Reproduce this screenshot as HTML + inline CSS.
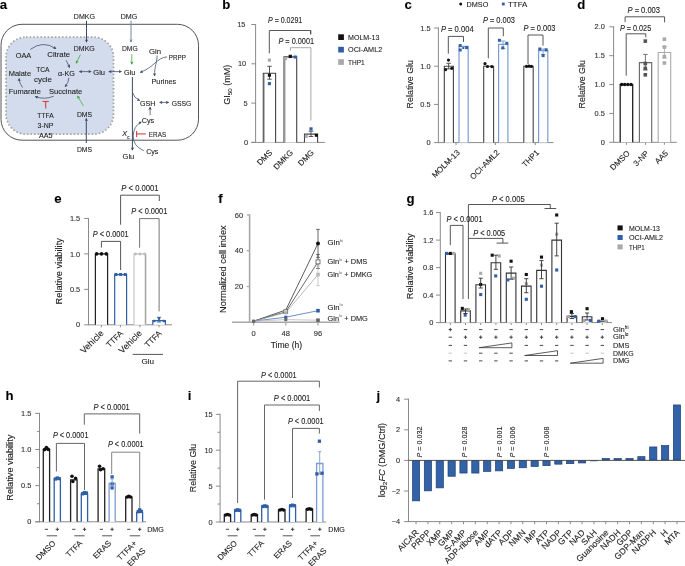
<!DOCTYPE html><html><head><meta charset="utf-8"><style>html,body{margin:0;padding:0;background:#fff;}svg{display:block;will-change:transform;font-family:"Liberation Sans",sans-serif;}text{stroke:#222;stroke-width:0.1px;}</style></head><body>
<svg width="685" height="566" viewBox="0 0 685 566" fill="#222">
<defs><marker id="ah" viewBox="0 0 10 10" refX="8" refY="5" markerWidth="3.4" markerHeight="3.4" orient="auto-start-reverse" markerUnits="userSpaceOnUse"><path d="M0 0 L10 5 L0 10 L2.5 5 z" fill="#3b4a68"/></marker><marker id="ahg" viewBox="0 0 10 10" refX="8" refY="5" markerWidth="3.4" markerHeight="3.4" orient="auto-start-reverse" markerUnits="userSpaceOnUse"><path d="M0 0 L10 5 L0 10 L2.5 5 z" fill="#3ca83a"/></marker><marker id="ahl" viewBox="0 0 10 10" refX="8" refY="5" markerWidth="3.4" markerHeight="3.4" orient="auto-start-reverse" markerUnits="userSpaceOnUse"><path d="M0 0 L10 5 L0 10 L2.5 5 z" fill="#7784a0"/></marker></defs>
<rect width="685" height="566" fill="#fff"/>
<text x="-0.3" y="9.3" font-size="13.2" font-weight="bold" fill="#000">a</text>
<rect x="1" y="24.3" width="197.5" height="115.9" rx="21" ry="21" fill="none" stroke="#555" stroke-width="1"/>
<rect x="6" y="37.2" width="107.5" height="97" rx="20" ry="20" fill="#d3dcec" stroke="#a5a5a5" stroke-width="1.8" stroke-dasharray="1.6 2.0"/>
<text x="84.4" y="19.21" font-size="7.8" text-anchor="middle" textLength="21.2" lengthAdjust="spacingAndGlyphs">DMKG</text>
<text x="129" y="19.21" font-size="7.8" text-anchor="middle" textLength="16.6" lengthAdjust="spacingAndGlyphs">DMG</text>
<text x="23.5" y="57.51" font-size="7.8" text-anchor="middle" textLength="15.5" lengthAdjust="spacingAndGlyphs">OAA</text>
<text x="58.7" y="57.11" font-size="7.8" text-anchor="middle" textLength="22.8" lengthAdjust="spacingAndGlyphs">Citrate</text>
<text x="84.3" y="50.71" font-size="7.8" text-anchor="middle" textLength="21" lengthAdjust="spacingAndGlyphs">DMKG</text>
<text x="129.8" y="51.31" font-size="7.8" text-anchor="middle" textLength="15.8" lengthAdjust="spacingAndGlyphs">DMG</text>
<text x="19.9" y="76.21" font-size="7.8" text-anchor="middle" textLength="22.2" lengthAdjust="spacingAndGlyphs">Malate</text>
<text x="42.9" y="72.41" font-size="7.8" text-anchor="middle" textLength="13.4" lengthAdjust="spacingAndGlyphs">TCA</text>
<text x="43" y="82.41" font-size="7.8" text-anchor="middle" textLength="18.1" lengthAdjust="spacingAndGlyphs">cycle</text>
<text x="66.4" y="76.21" font-size="7.8" text-anchor="middle" textLength="16.8" lengthAdjust="spacingAndGlyphs">α-KG</text>
<text x="99.2" y="75.21" font-size="7.8" text-anchor="middle" textLength="11.7" lengthAdjust="spacingAndGlyphs">Glu</text>
<text x="129.7" y="75.21" font-size="7.8" text-anchor="middle" textLength="11.3" lengthAdjust="spacingAndGlyphs">Glu</text>
<text x="155" y="54.11" font-size="7.8" text-anchor="middle" textLength="12.1" lengthAdjust="spacingAndGlyphs">Gln</text>
<text x="177.3" y="60.11" font-size="7.8" text-anchor="middle" textLength="17" lengthAdjust="spacingAndGlyphs">PRPP</text>
<text x="163.8" y="83.71" font-size="7.8" text-anchor="middle" textLength="24.5" lengthAdjust="spacingAndGlyphs">Purines</text>
<text x="24.8" y="94.41" font-size="7.8" text-anchor="middle" textLength="32.1" lengthAdjust="spacingAndGlyphs">Fumarate</text>
<text x="65.6" y="94.31" font-size="7.8" text-anchor="middle" textLength="33.2" lengthAdjust="spacingAndGlyphs">Succinate</text>
<text x="147.6" y="106.21" font-size="7.8" text-anchor="middle" textLength="15.4" lengthAdjust="spacingAndGlyphs">GSH</text>
<text x="181.6" y="106.21" font-size="7.8" text-anchor="middle" textLength="19.6" lengthAdjust="spacingAndGlyphs">GSSG</text>
<text x="147.9" y="123.11" font-size="7.8" text-anchor="middle" textLength="12.4" lengthAdjust="spacingAndGlyphs">Cys</text>
<text x="45.5" y="118.31" font-size="7.8" text-anchor="middle" textLength="16.3" lengthAdjust="spacingAndGlyphs">TTFA</text>
<text x="45.5" y="128.31" font-size="7.8" text-anchor="middle" textLength="15.9" lengthAdjust="spacingAndGlyphs">3-NP</text>
<text x="45.8" y="138.21" font-size="7.8" text-anchor="middle" textLength="13.5" lengthAdjust="spacingAndGlyphs">AA5</text>
<text x="84.5" y="117.01" font-size="7.8" text-anchor="middle" textLength="15.2" lengthAdjust="spacingAndGlyphs">DMS</text>
<text x="84.5" y="152.41" font-size="7.8" text-anchor="middle" textLength="15.2" lengthAdjust="spacingAndGlyphs">DMS</text>
<text x="157.5" y="137.31" font-size="7.8" text-anchor="middle" textLength="17.3" lengthAdjust="spacingAndGlyphs">ERAS</text>
<text x="152.3" y="154.01" font-size="7.8" text-anchor="middle" textLength="12.3" lengthAdjust="spacingAndGlyphs">Cys</text>
<text x="128.4" y="159.21" font-size="7.8" text-anchor="middle" textLength="11.7" lengthAdjust="spacingAndGlyphs">Glu</text>
<text x="122.3" y="136.4" font-size="7.3" font-style="italic">X</text>
<text x="127.2" y="139.2" font-size="4.6">c</text>
<path d="M86.5 20.8 V42" fill="none" stroke="#3b4a68" stroke-width="1" marker-end="url(#ah)"/>
<path d="M131 20.8 V42" fill="none" stroke="#7784a0" stroke-width="1" marker-end="url(#ahl)"/>
<path d="M86.3 143 V118.5" fill="none" stroke="#3b4a68" stroke-width="1" marker-end="url(#ah)"/>
<path d="M30.3 49.4 Q43 40 55.8 48.6" fill="none" stroke="#3b4a68" stroke-width="0.75" marker-end="url(#ah)"/>
<path d="M66.1 60.3 L69.6 67.3" fill="none" stroke="#3b4a68" stroke-width="0.75" marker-end="url(#ah)"/>
<path d="M68.9 77.8 Q68.5 83 65.2 86.6" fill="none" stroke="#3b4a68" stroke-width="0.75" marker-end="url(#ah)"/>
<path d="M53.7 96.2 Q44.5 100 35.4 96.6" fill="none" stroke="#3b4a68" stroke-width="0.75" marker-end="url(#ah)"/>
<path d="M22.6 87.5 Q19 83 19.2 78.6" fill="none" stroke="#3b4a68" stroke-width="0.75" marker-end="url(#ah)"/>
<path d="M80.4 54.6 L76.2 63.2" fill="none" stroke="#3ca83a" stroke-width="0.75" marker-end="url(#ahg)"/>
<path d="M131.8 54.1 V64" fill="none" stroke="#3ca83a" stroke-width="0.75" marker-end="url(#ahg)"/>
<path d="M83.4 105.8 L77.6 96.2" fill="none" stroke="#3ca83a" stroke-width="0.75" marker-end="url(#ahg)"/>
<path d="M79.5 71.6 H91" fill="none" stroke="#3b4a68" stroke-width="0.75" marker-end="url(#ah)" marker-start="url(#ah)"/>
<path d="M109 71.6 H121.3" fill="none" stroke="#3b4a68" stroke-width="0.75" marker-end="url(#ah)" marker-start="url(#ah)"/>
<path d="M159.8 102.4 H168.6" fill="none" stroke="#3b4a68" stroke-width="0.75" marker-end="url(#ah)" marker-start="url(#ah)"/>
<path d="M132.4 77 V150" fill="none" stroke="#3b4a68" stroke-width="1" marker-end="url(#ah)"/>
<path d="M132.4 92.5 Q134 98 139.6 100.4" fill="none" stroke="#3b4a68" stroke-width="0.75" marker-end="url(#ah)"/>
<path d="M167.1 56.9 C157 57.3 153.5 68 140.3 72.3" fill="none" stroke="#3b4a68" stroke-width="0.75" marker-end="url(#ah)"/>
<path d="M157.1 55.5 C157.2 62 154.4 66 154.6 75.8" fill="none" stroke="#3b4a68" stroke-width="0.75" marker-end="url(#ah)"/>
<path d="M150.1 115.3 V107.2" fill="none" stroke="#3b4a68" stroke-width="0.75" marker-end="url(#ah)"/>
<path d="M143.8 150.7 Q133 146 133.2 136 Q133.5 126 141.2 122.1" fill="none" stroke="#3b4a68" stroke-width="0.75" marker-end="url(#ah)"/>
<line x1="42.6" y1="101.5" x2="48.8" y2="101.5" stroke="#d8403a" stroke-width="1.1"/>
<line x1="45.7" y1="101.5" x2="45.7" y2="108.5" stroke="#d8403a" stroke-width="1.1"/>
<line x1="136.6" y1="133.9" x2="145.8" y2="133.9" stroke="#d8403a" stroke-width="1.1"/>
<line x1="136.6" y1="130.9" x2="136.6" y2="137" stroke="#d8403a" stroke-width="1.1"/>
<text x="222.3" y="9.2" font-size="13.2" font-weight="bold" fill="#000">b</text>
<line x1="255.6" y1="24" x2="255.6" y2="142.9" stroke="#8a8a8a" stroke-width="1"/>
<line x1="251.3" y1="24.5" x2="255.6" y2="24.5" stroke="#8a8a8a" stroke-width="1"/>
<text x="245.4" y="27.16" font-size="7.4" text-anchor="end" fill="#333">15</text>
<line x1="251.3" y1="63.8" x2="255.6" y2="63.8" stroke="#8a8a8a" stroke-width="1"/>
<text x="246.2" y="66.46" font-size="7.4" text-anchor="end" fill="#333">10</text>
<line x1="251.3" y1="103.1" x2="255.6" y2="103.1" stroke="#8a8a8a" stroke-width="1"/>
<text x="247.6" y="105.76" font-size="7.4" text-anchor="end" fill="#333">5</text>
<line x1="251.3" y1="142.4" x2="255.6" y2="142.4" stroke="#8a8a8a" stroke-width="1"/>
<text x="248.2" y="145.06" font-size="7.4" text-anchor="end" fill="#333">0</text>
<line x1="251.2" y1="142.4" x2="324.9" y2="142.4" stroke="#8a8a8a" stroke-width="1"/>
<text x="0" y="0" font-size="8.8" text-anchor="middle" transform="translate(230.4 84.7) rotate(-90)" textLength="40" lengthAdjust="spacingAndGlyphs">GI<tspan font-size="6" dy="2">50</tspan><tspan dy="-2"> (mM)</tspan></text>
<path d="M263.3 142.4 V73.23 H275.6 V142.4" fill="#fff" stroke="#444" stroke-width="1.1"/>
<path d="M284 142.4 V56.88 H296.7 V142.4" fill="#fff" stroke="#444" stroke-width="1.1"/>
<path d="M304.5 142.4 V134.15 H317.6 V142.4" fill="#fff" stroke="#444" stroke-width="1.1"/>
<line x1="264.4" y1="74.23" x2="264.4" y2="142.4" stroke="#9a9a9a" stroke-width="0.8"/>
<line x1="285.1" y1="57.88" x2="285.1" y2="142.4" stroke="#9a9a9a" stroke-width="0.8"/>
<line x1="269.5" y1="66.3" x2="269.5" y2="79.2" stroke="#444" stroke-width="0.9"/>
<line x1="267.25" y1="66.3" x2="271.75" y2="66.3" stroke="#444" stroke-width="0.9"/>
<line x1="267.25" y1="79.2" x2="271.75" y2="79.2" stroke="#444" stroke-width="0.9"/>
<rect x="267.85" y="58.55" width="3.1" height="3.1" fill="#aaa" stroke="none" stroke-width="1"/>
<rect x="267.85" y="73.65" width="3.1" height="3.1" fill="#111" stroke="none" stroke-width="1"/>
<rect x="267.85" y="82.05" width="3.1" height="3.1" fill="#2f5fa7" stroke="none" stroke-width="1"/>
<rect x="284.05" y="57.05" width="3.1" height="3.1" fill="#aaa" stroke="none" stroke-width="1"/>
<rect x="288.65" y="54.75" width="3.3" height="3.3" fill="#111" stroke="none" stroke-width="1"/>
<rect x="293.65" y="55.45" width="3.1" height="3.1" fill="#2f5fa7" stroke="none" stroke-width="1"/>
<line x1="311" y1="131.2" x2="311" y2="136.5" stroke="#444" stroke-width="0.9"/>
<line x1="308.75" y1="131.2" x2="313.25" y2="131.2" stroke="#444" stroke-width="0.9"/>
<line x1="308.75" y1="136.5" x2="313.25" y2="136.5" stroke="#444" stroke-width="0.9"/>
<rect x="309.4" y="127.3" width="3.2" height="3.2" fill="#2f5fa7" stroke="none" stroke-width="1"/>
<rect x="314.8" y="133.8" width="3" height="3" fill="#111" stroke="none" stroke-width="1"/>
<rect x="304.8" y="134.8" width="3" height="3" fill="#aaa" stroke="none" stroke-width="1"/>
<polyline points="269.3,53.4 269.3,30.5 310.7,30.5 310.7,34.3" fill="none" stroke="#444" stroke-width="0.9"/>
<polyline points="290.5,50.6 290.5,47.7 310.9,47.7 310.9,120.5" fill="none" stroke="#aaa" stroke-width="1"/>
<line x1="310.7" y1="34.3" x2="310.7" y2="30.5" stroke="#444" stroke-width="0.9"/>
<text x="268" y="22.6" font-size="8.3" textLength="34.3" lengthAdjust="spacingAndGlyphs"><tspan font-style="italic">P</tspan> = 0.0291</text>
<text x="278.4" y="43.9" font-size="8.3" textLength="35.7" lengthAdjust="spacingAndGlyphs"><tspan font-style="italic">P</tspan> = 0.0001</text>
<text x="0" y="0" transform="translate(272.8 153.2) rotate(-45)" font-size="8" text-anchor="end">DMS</text>
<text x="0" y="0" transform="translate(293.6 153.2) rotate(-45)" font-size="8" text-anchor="end">DMKG</text>
<text x="0" y="0" transform="translate(314.5 153.2) rotate(-45)" font-size="8" text-anchor="end">DMG</text>
<rect x="338.2" y="34.3" width="5.7" height="5.7" fill="#111" stroke="none" stroke-width="1"/>
<text x="348" y="39.9" font-size="7.6" textLength="31.5" lengthAdjust="spacingAndGlyphs">MOLM-13</text>
<rect x="338.2" y="46.8" width="5.7" height="5.7" fill="#2f5fa7" stroke="none" stroke-width="1"/>
<text x="348" y="52.4" font-size="7.6" textLength="34.2" lengthAdjust="spacingAndGlyphs">OCI-AML2</text>
<rect x="338.2" y="59.2" width="5.7" height="5.7" fill="#a9a9a9" stroke="none" stroke-width="1"/>
<text x="348" y="64.8" font-size="7.6" textLength="16.6" lengthAdjust="spacingAndGlyphs">THP1</text>
<text x="404.4" y="9.3" font-size="13.2" font-weight="bold" fill="#000">c</text>
<line x1="438.4" y1="27.5" x2="438.4" y2="143.1" stroke="#8a8a8a" stroke-width="1"/>
<line x1="434.1" y1="28" x2="438.4" y2="28" stroke="#8a8a8a" stroke-width="1"/>
<text x="430.5" y="30.66" font-size="7.4" text-anchor="end" fill="#333">1.5</text>
<line x1="434.1" y1="66.2" x2="438.4" y2="66.2" stroke="#8a8a8a" stroke-width="1"/>
<text x="430.5" y="68.86" font-size="7.4" text-anchor="end" fill="#333">1.0</text>
<line x1="434.1" y1="104.4" x2="438.4" y2="104.4" stroke="#8a8a8a" stroke-width="1"/>
<text x="430.5" y="107.06" font-size="7.4" text-anchor="end" fill="#333">0.5</text>
<line x1="434.1" y1="142.6" x2="438.4" y2="142.6" stroke="#8a8a8a" stroke-width="1"/>
<text x="430.5" y="145.26" font-size="7.4" text-anchor="end" fill="#333">0</text>
<line x1="438.4" y1="142.6" x2="553.5" y2="142.6" stroke="#8a8a8a" stroke-width="1"/>
<line x1="456" y1="142.6" x2="456" y2="145.1" stroke="#8a8a8a" stroke-width="1"/>
<line x1="495.3" y1="142.6" x2="495.3" y2="145.1" stroke="#8a8a8a" stroke-width="1"/>
<line x1="535.2" y1="142.6" x2="535.2" y2="145.1" stroke="#8a8a8a" stroke-width="1"/>
<text x="0" y="0" font-size="8.8" text-anchor="middle" transform="translate(412.6 84.2) rotate(-90)" textLength="48.4" lengthAdjust="spacingAndGlyphs">Relative Glu</text>
<circle cx="460.7" cy="4" r="1.5" fill="#111"/>
<text x="466.6" y="6.6" font-size="7.2" textLength="21.7" lengthAdjust="spacingAndGlyphs">DMSO</text>
<rect x="501.9" y="2.6" width="2.8" height="2.8" fill="#2f5fa7" stroke="none" stroke-width="1"/>
<text x="508" y="6.6" font-size="7.2" textLength="19.3" lengthAdjust="spacingAndGlyphs">TTFA</text>
<path d="M444.3 142.6 V66.2 H453.4 V142.6" fill="#fff" stroke="#444" stroke-width="1.1"/>
<path d="M459 142.6 V46.34 H468.2 V142.6" fill="#fff" stroke="#7d9dd2" stroke-width="1.2"/>
<path d="M483.7 142.6 V66.2 H493.6 V142.6" fill="#fff" stroke="#444" stroke-width="1.1"/>
<path d="M498.6 142.6 V44.43 H507.9 V142.6" fill="#fff" stroke="#7d9dd2" stroke-width="1.2"/>
<path d="M523.8 142.6 V66.2 H533.2 V142.6" fill="#fff" stroke="#444" stroke-width="1.1"/>
<path d="M538.6 142.6 V50.54 H547.8 V142.6" fill="#fff" stroke="#7d9dd2" stroke-width="1.2"/>
<line x1="448.6" y1="63.3" x2="448.6" y2="68.8" stroke="#444" stroke-width="0.9"/>
<line x1="446.35" y1="63.3" x2="450.85" y2="63.3" stroke="#444" stroke-width="0.9"/>
<line x1="446.35" y1="68.8" x2="450.85" y2="68.8" stroke="#444" stroke-width="0.9"/>
<circle cx="448.5" cy="60.1" r="1.6" fill="#111"/>
<circle cx="445.6" cy="69.6" r="1.6" fill="#111"/>
<circle cx="451.8" cy="68.3" r="1.6" fill="#111"/>
<rect x="458.7" y="44.1" width="3" height="3" fill="#2f5fa7" stroke="none" stroke-width="1"/>
<rect x="458.7" y="48.5" width="3" height="3" fill="#2f5fa7" stroke="none" stroke-width="1"/>
<rect x="465.1" y="46.1" width="3" height="3" fill="#2f5fa7" stroke="none" stroke-width="1"/>
<rect x="462.3" y="47" width="2" height="2" fill="#2f5fa7" stroke="none" stroke-width="1"/>
<circle cx="485" cy="63.7" r="1.6" fill="#111"/>
<circle cx="487.5" cy="66.5" r="1.6" fill="#111"/>
<circle cx="491.8" cy="66.6" r="1.6" fill="#111"/>
<line x1="503.1" y1="41" x2="503.1" y2="48.5" stroke="#7d9dd2" stroke-width="0.9"/>
<line x1="500.85" y1="41" x2="505.35" y2="41" stroke="#7d9dd2" stroke-width="0.9"/>
<line x1="500.85" y1="48.5" x2="505.35" y2="48.5" stroke="#7d9dd2" stroke-width="0.9"/>
<rect x="497.9" y="38.8" width="3" height="3" fill="#2f5fa7" stroke="none" stroke-width="1"/>
<rect x="505.3" y="41.8" width="3" height="3" fill="#2f5fa7" stroke="none" stroke-width="1"/>
<rect x="501.3" y="46.4" width="3" height="3" fill="#2f5fa7" stroke="none" stroke-width="1"/>
<circle cx="526.5" cy="66.4" r="1.6" fill="#111"/>
<circle cx="529" cy="66.2" r="1.6" fill="#111"/>
<circle cx="531.4" cy="66.4" r="1.6" fill="#111"/>
<line x1="543.1" y1="49" x2="543.1" y2="54.5" stroke="#7d9dd2" stroke-width="0.9"/>
<line x1="540.85" y1="49" x2="545.35" y2="49" stroke="#7d9dd2" stroke-width="0.9"/>
<line x1="540.85" y1="54.5" x2="545.35" y2="54.5" stroke="#7d9dd2" stroke-width="0.9"/>
<rect x="538.3" y="47.5" width="3" height="3" fill="#2f5fa7" stroke="none" stroke-width="1"/>
<rect x="544.7" y="48.3" width="3" height="3" fill="#2f5fa7" stroke="none" stroke-width="1"/>
<rect x="541.6" y="54.1" width="3" height="3" fill="#2f5fa7" stroke="none" stroke-width="1"/>
<polyline points="448.3,53.7 448.3,36.4 463.5,36.4 463.5,42" fill="none" stroke="#444" stroke-width="0.9"/>
<polyline points="488.3,58.4 488.3,28 503.3,28 503.3,36.2" fill="none" stroke="#444" stroke-width="0.9"/>
<polyline points="528,64.3 528,35 543,35 543,45.6" fill="none" stroke="#444" stroke-width="0.9"/>
<text x="440.9" y="32.3" font-size="8.3" textLength="32.7" lengthAdjust="spacingAndGlyphs"><tspan font-style="italic">P</tspan> = 0.004</text>
<text x="482.9" y="23" font-size="8.3" textLength="32.1" lengthAdjust="spacingAndGlyphs"><tspan font-style="italic">P</tspan> = 0.003</text>
<text x="523.4" y="30.9" font-size="8.3" textLength="32" lengthAdjust="spacingAndGlyphs"><tspan font-style="italic">P</tspan> = 0.003</text>
<text x="0" y="0" transform="translate(460.3 153.2) rotate(-45)" font-size="8" text-anchor="end">MOLM-13</text>
<text x="0" y="0" transform="translate(500 153.2) rotate(-45)" font-size="8" text-anchor="end">OCI-AML2</text>
<text x="0" y="0" transform="translate(539.7 153.2) rotate(-45)" font-size="8" text-anchor="end">THP1</text>
<text x="577.2" y="9.3" font-size="13.2" font-weight="bold" fill="#000">d</text>
<line x1="613.6" y1="26.3" x2="613.6" y2="142.8" stroke="#8a8a8a" stroke-width="1"/>
<line x1="609.3" y1="26.8" x2="613.6" y2="26.8" stroke="#8a8a8a" stroke-width="1"/>
<text x="604.8" y="29.46" font-size="7.4" text-anchor="end" fill="#333">2.0</text>
<line x1="609.3" y1="55.68" x2="613.6" y2="55.68" stroke="#8a8a8a" stroke-width="1"/>
<text x="604.8" y="58.34" font-size="7.4" text-anchor="end" fill="#333">1.5</text>
<line x1="609.3" y1="84.55" x2="613.6" y2="84.55" stroke="#8a8a8a" stroke-width="1"/>
<text x="604.8" y="87.21" font-size="7.4" text-anchor="end" fill="#333">1.0</text>
<line x1="609.3" y1="113.43" x2="613.6" y2="113.43" stroke="#8a8a8a" stroke-width="1"/>
<text x="604.8" y="116.09" font-size="7.4" text-anchor="end" fill="#333">0.5</text>
<line x1="609.3" y1="142.3" x2="613.6" y2="142.3" stroke="#8a8a8a" stroke-width="1"/>
<text x="604.8" y="144.96" font-size="7.4" text-anchor="end" fill="#333">0</text>
<line x1="613.6" y1="142.3" x2="676.8" y2="142.3" stroke="#8a8a8a" stroke-width="1"/>
<line x1="626.5" y1="142.3" x2="626.5" y2="144.8" stroke="#8a8a8a" stroke-width="1"/>
<line x1="645.5" y1="142.3" x2="645.5" y2="144.8" stroke="#8a8a8a" stroke-width="1"/>
<line x1="664.4" y1="142.3" x2="664.4" y2="144.8" stroke="#8a8a8a" stroke-width="1"/>
<text x="0" y="0" font-size="8.8" text-anchor="middle" transform="translate(584.7 84.3) rotate(-90)" textLength="48.2" lengthAdjust="spacingAndGlyphs">Relative Glu</text>
<path d="M620.2 142.3 V84.55 H632.7 V142.3" fill="#fff" stroke="#222" stroke-width="1.3"/>
<path d="M639.4 142.3 V62.61 H651.7 V142.3" fill="#fff" stroke="#666" stroke-width="1.1"/>
<path d="M658.2 142.3 V52.5 H670.7 V142.3" fill="#fff" stroke="#aaa" stroke-width="1.1"/>
<circle cx="621.6" cy="84.55" r="1.75" fill="#111"/>
<circle cx="624.6" cy="84.55" r="1.75" fill="#111"/>
<circle cx="627.8" cy="84.55" r="1.75" fill="#111"/>
<circle cx="631" cy="84.55" r="1.75" fill="#111"/>
<line x1="645.4" y1="54.4" x2="645.4" y2="69.9" stroke="#666" stroke-width="0.9"/>
<line x1="643.1" y1="54.4" x2="647.7" y2="54.4" stroke="#666" stroke-width="0.9"/>
<line x1="643.1" y1="69.9" x2="647.7" y2="69.9" stroke="#666" stroke-width="0.9"/>
<rect x="643.5" y="39.3" width="3.6" height="3.6" fill="#555" stroke="none" stroke-width="1"/>
<rect x="643.5" y="61.7" width="3.6" height="3.6" fill="#555" stroke="none" stroke-width="1"/>
<rect x="643.5" y="66.6" width="3.6" height="3.6" fill="#555" stroke="none" stroke-width="1"/>
<rect x="643.5" y="73" width="3.6" height="3.6" fill="#555" stroke="none" stroke-width="1"/>
<line x1="664.4" y1="46.5" x2="664.4" y2="58" stroke="#aaa" stroke-width="0.9"/>
<line x1="662.1" y1="46.5" x2="666.7" y2="46.5" stroke="#aaa" stroke-width="0.9"/>
<line x1="662.1" y1="58" x2="666.7" y2="58" stroke="#aaa" stroke-width="0.9"/>
<rect x="662.6" y="37.4" width="3.6" height="3.6" fill="#aaa" stroke="none" stroke-width="1"/>
<rect x="662.6" y="45.3" width="3.6" height="3.6" fill="#aaa" stroke="none" stroke-width="1"/>
<rect x="662.6" y="54.8" width="3.6" height="3.6" fill="#aaa" stroke="none" stroke-width="1"/>
<rect x="662.6" y="61.2" width="3.6" height="3.6" fill="#aaa" stroke="none" stroke-width="1"/>
<polyline points="625.1,22 625.1,16.8 664.6,16.8 664.6,22.4" fill="none" stroke="#444" stroke-width="0.9"/>
<polyline points="626.2,75.7 626.2,33.8 645.8,33.8 645.8,37.4" fill="none" stroke="#444" stroke-width="0.9"/>
<text x="627.5" y="12.9" font-size="8.3" textLength="32.5" lengthAdjust="spacingAndGlyphs"><tspan font-style="italic">P</tspan> = 0.003</text>
<text x="619.9" y="31.1" font-size="8.3" textLength="31.3" lengthAdjust="spacingAndGlyphs"><tspan font-style="italic">P</tspan> = 0.025</text>
<text x="0" y="0" transform="translate(630.3 153.9) rotate(-45)" font-size="8" text-anchor="end">DMSO</text>
<text x="0" y="0" transform="translate(649.4 153.9) rotate(-45)" font-size="8" text-anchor="end">3-NP</text>
<text x="0" y="0" transform="translate(668.6 153.9) rotate(-45)" font-size="8" text-anchor="end">AA5</text>
<text x="54.3" y="203" font-size="13.2" font-weight="bold" fill="#000">e</text>
<line x1="88.5" y1="217.95" x2="88.5" y2="325.3" stroke="#8a8a8a" stroke-width="1"/>
<line x1="84.2" y1="218.45" x2="88.5" y2="218.45" stroke="#8a8a8a" stroke-width="1"/>
<text x="80.2" y="221.11" font-size="7.4" text-anchor="end" fill="#333">1.5</text>
<line x1="84.2" y1="253.9" x2="88.5" y2="253.9" stroke="#8a8a8a" stroke-width="1"/>
<text x="80.2" y="256.56" font-size="7.4" text-anchor="end" fill="#333">1.0</text>
<line x1="84.2" y1="289.35" x2="88.5" y2="289.35" stroke="#8a8a8a" stroke-width="1"/>
<text x="80.2" y="292.01" font-size="7.4" text-anchor="end" fill="#333">0.5</text>
<line x1="84.2" y1="324.8" x2="88.5" y2="324.8" stroke="#8a8a8a" stroke-width="1"/>
<text x="80.2" y="327.46" font-size="7.4" text-anchor="end" fill="#333">0</text>
<line x1="88.5" y1="324.8" x2="172" y2="324.8" stroke="#8a8a8a" stroke-width="1"/>
<line x1="101.4" y1="324.8" x2="101.4" y2="327.3" stroke="#8a8a8a" stroke-width="1"/>
<line x1="120.4" y1="324.8" x2="120.4" y2="327.3" stroke="#8a8a8a" stroke-width="1"/>
<line x1="139.9" y1="324.8" x2="139.9" y2="327.3" stroke="#8a8a8a" stroke-width="1"/>
<line x1="159" y1="324.8" x2="159" y2="327.3" stroke="#8a8a8a" stroke-width="1"/>
<text x="0" y="0" font-size="8.8" text-anchor="middle" transform="translate(62.2 271.3) rotate(-90)" textLength="66.3" lengthAdjust="spacingAndGlyphs">Relative viability</text>
<path d="M95.4 324.8 V253.9 H107.6 V324.8" fill="#fff" stroke="#222" stroke-width="1.2"/>
<path d="M114.7 324.8 V274.67 H126.6 V324.8" fill="#fff" stroke="#2f5fa7" stroke-width="1.2"/>
<path d="M134 324.8 V253.9 H145.9 V324.8" fill="#fff" stroke="#c8c8c8" stroke-width="1.2"/>
<line x1="145.3" y1="253.9" x2="145.3" y2="324.8" stroke="#999" stroke-width="1"/>
<path d="M152.8 324.8 V320.55 H165.4 V324.8" fill="#fff" stroke="#2f5fa7" stroke-width="1.2"/>
<circle cx="96.7" cy="253.9" r="1.8" fill="#111"/>
<circle cx="101.5" cy="253.9" r="1.8" fill="#111"/>
<circle cx="106.3" cy="253.9" r="1.8" fill="#111"/>
<rect x="114.5" y="272.96" width="3" height="3" fill="#2f5fa7" stroke="none" stroke-width="1"/>
<rect x="119.1" y="272.96" width="3" height="3" fill="#2f5fa7" stroke="none" stroke-width="1"/>
<rect x="123.7" y="272.96" width="3" height="3" fill="#2f5fa7" stroke="none" stroke-width="1"/>
<circle cx="135.4" cy="253.9" r="1.5" fill="#bdbdbd"/>
<circle cx="140" cy="253.9" r="1.5" fill="#bdbdbd"/>
<circle cx="144.6" cy="253.9" r="1.5" fill="#bdbdbd"/>
<line x1="159" y1="317.3" x2="159" y2="322" stroke="#2f5fa7" stroke-width="0.9"/>
<line x1="157" y1="317.3" x2="161" y2="317.3" stroke="#2f5fa7" stroke-width="0.9"/>
<line x1="157" y1="322" x2="161" y2="322" stroke="#2f5fa7" stroke-width="0.9"/>
<rect x="153" y="319.8" width="2.4" height="2.4" fill="#2f5fa7" stroke="none" stroke-width="1"/>
<rect x="157.8" y="317.3" width="2.4" height="2.4" fill="#2f5fa7" stroke="none" stroke-width="1"/>
<rect x="162.6" y="319.8" width="2.4" height="2.4" fill="#2f5fa7" stroke="none" stroke-width="1"/>
<polyline points="120.6,224.7 120.6,195.2 159.3,195.2 159.3,201" fill="none" stroke="#444" stroke-width="0.9"/>
<polyline points="101.4,247.6 101.4,241.4 120.6,241.4 120.6,270" fill="none" stroke="#444" stroke-width="0.9"/>
<polyline points="139.6,247.8 139.6,218.6 159.1,218.6 159.1,311.4" fill="none" stroke="#666" stroke-width="0.9"/>
<text x="121.3" y="191.1" font-size="8.3" textLength="37.3" lengthAdjust="spacingAndGlyphs"><tspan font-style="italic">P</tspan> &lt; 0.0001</text>
<text x="131.3" y="214" font-size="8.3" textLength="36" lengthAdjust="spacingAndGlyphs"><tspan font-style="italic">P</tspan> &lt; 0.0001</text>
<text x="92.8" y="237.4" font-size="8.3" textLength="35.8" lengthAdjust="spacingAndGlyphs"><tspan font-style="italic">P</tspan> &lt; 0.0001</text>
<text x="0" y="0" transform="translate(104.2 333.8) rotate(-45)" font-size="8.9" text-anchor="end">Vehicle</text>
<text x="0" y="0" transform="translate(123.6 333.8) rotate(-45)" font-size="8.2" text-anchor="end">TTFA</text>
<text x="0" y="0" transform="translate(142.6 333.8) rotate(-45)" font-size="8.9" text-anchor="end">Vehicle</text>
<text x="0" y="0" transform="translate(162.2 333.8) rotate(-45)" font-size="8.2" text-anchor="end">TTFA</text>
<line x1="132.7" y1="354.4" x2="163" y2="354.4" stroke="#444" stroke-width="0.9"/>
<text x="147.7" y="363.6" font-size="7.6" text-anchor="middle" textLength="12.6" lengthAdjust="spacingAndGlyphs">Glu</text>
<text x="218.2" y="202.8" font-size="13.2" font-weight="bold" fill="#000">f</text>
<line x1="249.6" y1="214.4" x2="249.6" y2="322.3" stroke="#a8a8a8" stroke-width="1.6"/>
<line x1="246.8" y1="214.9" x2="249.6" y2="214.9" stroke="#a8a8a8" stroke-width="1.3"/>
<text x="243.2" y="217.6" font-size="7.6" text-anchor="end" fill="#333">60</text>
<line x1="246.8" y1="250.7" x2="249.6" y2="250.7" stroke="#a8a8a8" stroke-width="1.3"/>
<text x="243.2" y="253.4" font-size="7.6" text-anchor="end" fill="#333">40</text>
<line x1="246.8" y1="286.5" x2="249.6" y2="286.5" stroke="#a8a8a8" stroke-width="1.3"/>
<text x="243.2" y="289.2" font-size="7.6" text-anchor="end" fill="#333">20</text>
<line x1="232" y1="322.3" x2="339.6" y2="322.3" stroke="#a8a8a8" stroke-width="1.6"/>
<line x1="253.6" y1="322.3" x2="253.6" y2="325.5" stroke="#a8a8a8" stroke-width="1.3"/>
<line x1="285.8" y1="322.3" x2="285.8" y2="325.5" stroke="#a8a8a8" stroke-width="1.3"/>
<line x1="318" y1="322.3" x2="318" y2="325.5" stroke="#a8a8a8" stroke-width="1.3"/>
<text x="253.6" y="336" font-size="7.6" text-anchor="middle" fill="#333">0</text>
<text x="285.8" y="336" font-size="7.6" text-anchor="middle" fill="#333">48</text>
<text x="318" y="336" font-size="7.6" text-anchor="middle" fill="#333">96</text>
<text x="286.4" y="347.6" font-size="8.6" text-anchor="middle" textLength="31.5" lengthAdjust="spacingAndGlyphs">Time (h)</text>
<text x="0" y="0" font-size="8.8" text-anchor="middle" transform="translate(226.2 269.1) rotate(-90)" textLength="87.6" lengthAdjust="spacingAndGlyphs">Normalized cell index</text>
<polyline points="253.6,321.2 285.8,310 318,243.4" fill="none" stroke="#333" stroke-width="0.8"/>
<polyline points="253.6,321.2 285.8,311.8 318,261.8" fill="none" stroke="#444" stroke-width="0.8"/>
<polyline points="253.6,321.2 285.8,312.6 318,274.6" fill="none" stroke="#aaa" stroke-width="0.8"/>
<polyline points="253.6,321.2 285.8,317.2 318,310.7" fill="none" stroke="#4a72b8" stroke-width="0.8"/>
<polyline points="253.6,321.2 285.8,319.6 318,320.2" fill="none" stroke="#bbb" stroke-width="0.8"/>
<line x1="318" y1="229.4" x2="318" y2="257.4" stroke="#444" stroke-width="0.8"/>
<line x1="316.2" y1="229.4" x2="319.8" y2="229.4" stroke="#444" stroke-width="0.8"/>
<line x1="316.2" y1="257.4" x2="319.8" y2="257.4" stroke="#444" stroke-width="0.8"/>
<line x1="318" y1="254.5" x2="318" y2="268.5" stroke="#444" stroke-width="0.8"/>
<line x1="316.2" y1="254.5" x2="319.8" y2="254.5" stroke="#444" stroke-width="0.8"/>
<line x1="316.2" y1="268.5" x2="319.8" y2="268.5" stroke="#444" stroke-width="0.8"/>
<line x1="318" y1="266" x2="318" y2="285.7" stroke="#bbb" stroke-width="0.8"/>
<line x1="316.2" y1="266" x2="319.8" y2="266" stroke="#bbb" stroke-width="0.8"/>
<line x1="316.2" y1="285.7" x2="319.8" y2="285.7" stroke="#bbb" stroke-width="0.8"/>
<circle cx="318" cy="243.6" r="2" fill="#111"/>
<rect x="316" y="259.9" width="4" height="4" fill="#fff" stroke="#555" stroke-width="0.8"/>
<rect x="316.2" y="272.8" width="3.6" height="3.6" fill="#b8b8b8" stroke="none" stroke-width="1"/>
<rect x="316.2" y="308.9" width="3.6" height="3.6" fill="#2f5fa7" stroke="none" stroke-width="1"/>
<rect x="316.2" y="318.4" width="3.6" height="3.6" fill="#666" stroke="none" stroke-width="1"/>
<rect x="283.9" y="309.8" width="3.8" height="3.8" fill="#fff" stroke="#555" stroke-width="0.8"/>
<rect x="284.3" y="311.3" width="3" height="3" fill="#aaa" stroke="none" stroke-width="1"/>
<rect x="284.3" y="315.7" width="3" height="3" fill="#2f5fa7" stroke="none" stroke-width="1"/>
<rect x="284.3" y="318.1" width="3" height="3" fill="#666" stroke="none" stroke-width="1"/>
<rect x="252" y="319.6" width="3.2" height="3.2" fill="#666" stroke="none" stroke-width="1"/>
<text x="327.6" y="245.4" font-size="7.6" textLength="15.6" lengthAdjust="spacingAndGlyphs">Gln<tspan font-size="4.3" dy="-3.6" fill="#666" style="stroke:none">hi</tspan><tspan dy="3.6"></tspan></text>
<text x="327.6" y="264.1" font-size="7.6" textLength="39.7" lengthAdjust="spacingAndGlyphs">Gln<tspan font-size="4.3" dy="-3.6" fill="#666" style="stroke:none">lo</tspan><tspan dy="3.6"> + DMS</tspan></text>
<text x="327.6" y="277.4" font-size="7.6" textLength="44.6" lengthAdjust="spacingAndGlyphs">Gln<tspan font-size="4.3" dy="-3.6" fill="#666" style="stroke:none">lo</tspan><tspan dy="3.6"> + DMKG</tspan></text>
<text x="327.6" y="309.5" font-size="7.6" textLength="15.4" lengthAdjust="spacingAndGlyphs">Gln<tspan font-size="4.3" dy="-3.6" fill="#666" style="stroke:none">lo</tspan><tspan dy="3.6"></tspan></text>
<text x="327.6" y="320.8" font-size="7.6" textLength="40.2" lengthAdjust="spacingAndGlyphs">Gln<tspan font-size="4.3" dy="-3.6" fill="#666" style="stroke:none">lo</tspan><tspan dy="3.6"> + DMG</tspan></text>
<text x="406.6" y="202.8" font-size="13.2" font-weight="bold" fill="#000">g</text>
<line x1="440.3" y1="212.1" x2="440.3" y2="323.1" stroke="#8a8a8a" stroke-width="1"/>
<line x1="436" y1="212.6" x2="440.3" y2="212.6" stroke="#8a8a8a" stroke-width="1"/>
<text x="433.4" y="215.26" font-size="7.4" text-anchor="end" fill="#333">1.6</text>
<line x1="436" y1="240.1" x2="440.3" y2="240.1" stroke="#8a8a8a" stroke-width="1"/>
<text x="433.4" y="242.76" font-size="7.4" text-anchor="end" fill="#333">1.2</text>
<line x1="436" y1="267.6" x2="440.3" y2="267.6" stroke="#8a8a8a" stroke-width="1"/>
<text x="433.4" y="270.26" font-size="7.4" text-anchor="end" fill="#333">0.8</text>
<line x1="436" y1="295.1" x2="440.3" y2="295.1" stroke="#8a8a8a" stroke-width="1"/>
<text x="433.4" y="297.76" font-size="7.4" text-anchor="end" fill="#333">0.4</text>
<line x1="436" y1="322.6" x2="440.3" y2="322.6" stroke="#8a8a8a" stroke-width="1"/>
<text x="433.4" y="325.26" font-size="7.4" text-anchor="end" fill="#333">0</text>
<line x1="440.3" y1="322.6" x2="612" y2="322.6" stroke="#8a8a8a" stroke-width="1"/>
<text x="0" y="0" font-size="8.8" text-anchor="middle" transform="translate(413.3 266.3) rotate(-90)" textLength="65.8" lengthAdjust="spacingAndGlyphs">Relative viability</text>
<line x1="450.3" y1="322.6" x2="450.3" y2="325" stroke="#8a8a8a" stroke-width="1"/>
<line x1="465.5" y1="322.6" x2="465.5" y2="325" stroke="#8a8a8a" stroke-width="1"/>
<line x1="480.7" y1="322.6" x2="480.7" y2="325" stroke="#8a8a8a" stroke-width="1"/>
<line x1="495.9" y1="322.6" x2="495.9" y2="325" stroke="#8a8a8a" stroke-width="1"/>
<line x1="511.1" y1="322.6" x2="511.1" y2="325" stroke="#8a8a8a" stroke-width="1"/>
<line x1="526.3" y1="322.6" x2="526.3" y2="325" stroke="#8a8a8a" stroke-width="1"/>
<line x1="541.5" y1="322.6" x2="541.5" y2="325" stroke="#8a8a8a" stroke-width="1"/>
<line x1="556.7" y1="322.6" x2="556.7" y2="325" stroke="#8a8a8a" stroke-width="1"/>
<line x1="571.9" y1="322.6" x2="571.9" y2="325" stroke="#8a8a8a" stroke-width="1"/>
<line x1="587.1" y1="322.6" x2="587.1" y2="325" stroke="#8a8a8a" stroke-width="1"/>
<line x1="602.3" y1="322.6" x2="602.3" y2="325" stroke="#8a8a8a" stroke-width="1"/>
<path d="M445.5 322.6 V253.85 H455.1 V322.6" fill="#fff" stroke="#333" stroke-width="1.1"/>
<path d="M460.7 322.6 V310.91 H470.3 V322.6" fill="#fff" stroke="#333" stroke-width="1.1"/>
<path d="M475.9 322.6 V284.79 H485.5 V322.6" fill="#fff" stroke="#333" stroke-width="1.1"/>
<path d="M491.1 322.6 V262.79 H500.7 V322.6" fill="#fff" stroke="#333" stroke-width="1.1"/>
<path d="M506.3 322.6 V273.1 H515.9 V322.6" fill="#fff" stroke="#333" stroke-width="1.1"/>
<path d="M521.5 322.6 V286.16 H531.1 V322.6" fill="#fff" stroke="#333" stroke-width="1.1"/>
<path d="M536.7 322.6 V270.35 H546.3 V322.6" fill="#fff" stroke="#333" stroke-width="1.1"/>
<path d="M551.9 322.6 V240.1 H561.5 V322.6" fill="#fff" stroke="#333" stroke-width="1.1"/>
<path d="M567.1 322.6 V316.41 H576.7 V322.6" fill="#fff" stroke="#333" stroke-width="1.1"/>
<path d="M582.3 322.6 V316.76 H591.9 V322.6" fill="#fff" stroke="#333" stroke-width="1.1"/>
<path d="M597.5 322.6 V321.23 H607.1 V322.6" fill="#fff" stroke="#333" stroke-width="1.1"/>
<rect x="444.95" y="251.85" width="3.1" height="3.1" fill="#2f5fa7" stroke="none" stroke-width="1"/>
<rect x="448.75" y="251.85" width="3.1" height="3.1" fill="#111" stroke="none" stroke-width="1"/>
<rect x="452.15" y="251.85" width="3.1" height="3.1" fill="#a9a9a9" stroke="none" stroke-width="1"/>
<rect x="460.75" y="306.85" width="3.1" height="3.1" fill="#111" stroke="none" stroke-width="1"/>
<rect x="466.75" y="307.95" width="3.1" height="3.1" fill="#a9a9a9" stroke="none" stroke-width="1"/>
<rect x="463.65" y="313.55" width="3.1" height="3.1" fill="#2f5fa7" stroke="none" stroke-width="1"/>
<rect x="479.15" y="271.75" width="3.1" height="3.1" fill="#a9a9a9" stroke="none" stroke-width="1"/>
<rect x="479.15" y="282.95" width="3.1" height="3.1" fill="#111" stroke="none" stroke-width="1"/>
<rect x="479.15" y="293.05" width="3.1" height="3.1" fill="#2f5fa7" stroke="none" stroke-width="1"/>
<rect x="490.65" y="253.65" width="3.1" height="3.1" fill="#111" stroke="none" stroke-width="1"/>
<rect x="497.65" y="254.35" width="3.1" height="3.1" fill="#a9a9a9" stroke="none" stroke-width="1"/>
<rect x="494.15" y="274.35" width="3.1" height="3.1" fill="#2f5fa7" stroke="none" stroke-width="1"/>
<rect x="509.55" y="259.65" width="3.1" height="3.1" fill="#111" stroke="none" stroke-width="1"/>
<rect x="506.25" y="278.35" width="3.1" height="3.1" fill="#2f5fa7" stroke="none" stroke-width="1"/>
<rect x="512.05" y="276.65" width="3.1" height="3.1" fill="#a9a9a9" stroke="none" stroke-width="1"/>
<rect x="524.75" y="272.95" width="3.1" height="3.1" fill="#111" stroke="none" stroke-width="1"/>
<rect x="524.75" y="282.25" width="3.1" height="3.1" fill="#a9a9a9" stroke="none" stroke-width="1"/>
<rect x="524.75" y="297.75" width="3.1" height="3.1" fill="#2f5fa7" stroke="none" stroke-width="1"/>
<rect x="539.95" y="255.55" width="3.1" height="3.1" fill="#111" stroke="none" stroke-width="1"/>
<rect x="539.95" y="263.55" width="3.1" height="3.1" fill="#a9a9a9" stroke="none" stroke-width="1"/>
<rect x="539.95" y="284.65" width="3.1" height="3.1" fill="#2f5fa7" stroke="none" stroke-width="1"/>
<rect x="555.15" y="213.45" width="3.1" height="3.1" fill="#111" stroke="none" stroke-width="1"/>
<rect x="555.15" y="232.65" width="3.1" height="3.1" fill="#a9a9a9" stroke="none" stroke-width="1"/>
<rect x="555.15" y="268.45" width="3.1" height="3.1" fill="#2f5fa7" stroke="none" stroke-width="1"/>
<rect x="569.85" y="310.15" width="3.1" height="3.1" fill="#111" stroke="none" stroke-width="1"/>
<rect x="573.55" y="315.05" width="3.1" height="3.1" fill="#2f5fa7" stroke="none" stroke-width="1"/>
<rect x="566.85" y="315.05" width="3.1" height="3.1" fill="#a9a9a9" stroke="none" stroke-width="1"/>
<rect x="585.55" y="307.15" width="3.1" height="3.1" fill="#111" stroke="none" stroke-width="1"/>
<rect x="588.95" y="318.85" width="3.1" height="3.1" fill="#2f5fa7" stroke="none" stroke-width="1"/>
<rect x="582.55" y="318.85" width="3.1" height="3.1" fill="#a9a9a9" stroke="none" stroke-width="1"/>
<rect x="597.35" y="319.65" width="3.1" height="3.1" fill="#2f5fa7" stroke="none" stroke-width="1"/>
<rect x="600.95" y="317.15" width="3.1" height="3.1" fill="#111" stroke="none" stroke-width="1"/>
<rect x="604.55" y="319.45" width="3.1" height="3.1" fill="#a9a9a9" stroke="none" stroke-width="1"/>
<line x1="465.5" y1="309" x2="465.5" y2="313.5" stroke="#333" stroke-width="0.9"/>
<line x1="463.4" y1="309" x2="467.6" y2="309" stroke="#333" stroke-width="0.9"/>
<line x1="463.4" y1="313.5" x2="467.6" y2="313.5" stroke="#333" stroke-width="0.9"/>
<line x1="480.7" y1="278.2" x2="480.7" y2="288" stroke="#333" stroke-width="0.9"/>
<line x1="478.6" y1="278.2" x2="482.8" y2="278.2" stroke="#333" stroke-width="0.9"/>
<line x1="478.6" y1="288" x2="482.8" y2="288" stroke="#333" stroke-width="0.9"/>
<line x1="495.9" y1="255.2" x2="495.9" y2="269.3" stroke="#333" stroke-width="0.9"/>
<line x1="493.8" y1="255.2" x2="498" y2="255.2" stroke="#333" stroke-width="0.9"/>
<line x1="493.8" y1="269.3" x2="498" y2="269.3" stroke="#333" stroke-width="0.9"/>
<line x1="511.1" y1="267" x2="511.1" y2="279.2" stroke="#333" stroke-width="0.9"/>
<line x1="509" y1="267" x2="513.2" y2="267" stroke="#333" stroke-width="0.9"/>
<line x1="509" y1="279.2" x2="513.2" y2="279.2" stroke="#333" stroke-width="0.9"/>
<line x1="526.3" y1="278.7" x2="526.3" y2="292.7" stroke="#333" stroke-width="0.9"/>
<line x1="524.2" y1="278.7" x2="528.4" y2="278.7" stroke="#333" stroke-width="0.9"/>
<line x1="524.2" y1="292.7" x2="528.4" y2="292.7" stroke="#333" stroke-width="0.9"/>
<line x1="541.5" y1="260.6" x2="541.5" y2="278.7" stroke="#333" stroke-width="0.9"/>
<line x1="539.4" y1="260.6" x2="543.6" y2="260.6" stroke="#333" stroke-width="0.9"/>
<line x1="539.4" y1="278.7" x2="543.6" y2="278.7" stroke="#333" stroke-width="0.9"/>
<line x1="556.7" y1="223.2" x2="556.7" y2="255.9" stroke="#333" stroke-width="0.9"/>
<line x1="554.6" y1="223.2" x2="558.8" y2="223.2" stroke="#333" stroke-width="0.9"/>
<line x1="554.6" y1="255.9" x2="558.8" y2="255.9" stroke="#333" stroke-width="0.9"/>
<line x1="571.9" y1="313.5" x2="571.9" y2="318.5" stroke="#333" stroke-width="0.9"/>
<line x1="569.8" y1="313.5" x2="574" y2="313.5" stroke="#333" stroke-width="0.9"/>
<line x1="569.8" y1="318.5" x2="574" y2="318.5" stroke="#333" stroke-width="0.9"/>
<line x1="587.1" y1="313" x2="587.1" y2="320" stroke="#333" stroke-width="0.9"/>
<line x1="585" y1="313" x2="589.2" y2="313" stroke="#333" stroke-width="0.9"/>
<line x1="585" y1="320" x2="589.2" y2="320" stroke="#333" stroke-width="0.9"/>
<polyline points="450.3,245.2 450.3,225.4 463,225.4 463,299" fill="none" stroke="#444" stroke-width="0.9"/>
<polyline points="468.4,299 468.4,204.5 550.3,204.5 550.3,208.5" fill="none" stroke="#444" stroke-width="0.9"/>
<line x1="544.5" y1="208.5" x2="556.2" y2="208.5" stroke="#444" stroke-width="0.9"/>
<polyline points="468.4,238.4 502.9,238.4 502.9,243.1" fill="none" stroke="#444" stroke-width="0.9"/>
<line x1="496.6" y1="243.1" x2="508.3" y2="243.1" stroke="#444" stroke-width="0.9"/>
<text x="446.6" y="221.6" font-size="8.3" textLength="36" lengthAdjust="spacingAndGlyphs"><tspan font-style="italic">P</tspan> &lt; 0.0001</text>
<text x="491.9" y="202.4" font-size="8.3" textLength="32.7" lengthAdjust="spacingAndGlyphs"><tspan font-style="italic">P</tspan> &lt; 0.005</text>
<text x="473.2" y="235.8" font-size="8.3" textLength="32" lengthAdjust="spacingAndGlyphs"><tspan font-style="italic">P</tspan> &lt; 0.005</text>
<rect x="617.5" y="225.4" width="5.2" height="5" fill="#111" stroke="none" stroke-width="1"/>
<text x="629" y="230.5" font-size="7.2" textLength="31" lengthAdjust="spacingAndGlyphs">MOLM-13</text>
<rect x="617.5" y="235" width="5.2" height="5" fill="#2f5fa7" stroke="none" stroke-width="1"/>
<text x="629" y="240.1" font-size="7.2" textLength="34" lengthAdjust="spacingAndGlyphs">OCI-AML2</text>
<rect x="617.5" y="244.4" width="5.2" height="5" fill="#a9a9a9" stroke="none" stroke-width="1"/>
<text x="629" y="249.5" font-size="7.2" textLength="15.6" lengthAdjust="spacingAndGlyphs">THP1</text>
<line x1="448.6" y1="329.6" x2="452" y2="329.6" stroke="#333" stroke-width="0.9"/>
<line x1="450.3" y1="327.9" x2="450.3" y2="331.3" stroke="#333" stroke-width="0.9"/>
<line x1="448.6" y1="337.2" x2="452" y2="337.2" stroke="#333" stroke-width="0.9"/>
<line x1="448.6" y1="345.4" x2="452" y2="345.4" stroke="#333" stroke-width="0.9"/>
<line x1="448.6" y1="353.2" x2="452" y2="353.2" stroke="#bbb" stroke-width="0.9"/>
<line x1="448.6" y1="360.9" x2="452" y2="360.9" stroke="#333" stroke-width="0.9"/>
<line x1="463.8" y1="329.6" x2="467.2" y2="329.6" stroke="#333" stroke-width="0.9"/>
<line x1="463.8" y1="337.2" x2="467.2" y2="337.2" stroke="#333" stroke-width="0.9"/>
<line x1="465.5" y1="335.5" x2="465.5" y2="338.9" stroke="#333" stroke-width="0.9"/>
<line x1="463.8" y1="345.4" x2="467.2" y2="345.4" stroke="#333" stroke-width="0.9"/>
<line x1="463.8" y1="353.2" x2="467.2" y2="353.2" stroke="#bbb" stroke-width="0.9"/>
<line x1="463.8" y1="360.9" x2="467.2" y2="360.9" stroke="#333" stroke-width="0.9"/>
<line x1="479" y1="329.6" x2="482.4" y2="329.6" stroke="#333" stroke-width="0.9"/>
<line x1="479" y1="337.2" x2="482.4" y2="337.2" stroke="#333" stroke-width="0.9"/>
<line x1="480.7" y1="335.5" x2="480.7" y2="338.9" stroke="#333" stroke-width="0.9"/>
<line x1="479" y1="353.2" x2="482.4" y2="353.2" stroke="#333" stroke-width="0.9"/>
<line x1="479" y1="360.9" x2="482.4" y2="360.9" stroke="#333" stroke-width="0.9"/>
<line x1="494.2" y1="329.6" x2="497.6" y2="329.6" stroke="#333" stroke-width="0.9"/>
<line x1="494.2" y1="337.2" x2="497.6" y2="337.2" stroke="#333" stroke-width="0.9"/>
<line x1="495.9" y1="335.5" x2="495.9" y2="338.9" stroke="#333" stroke-width="0.9"/>
<line x1="494.2" y1="353.2" x2="497.6" y2="353.2" stroke="#333" stroke-width="0.9"/>
<line x1="494.2" y1="360.9" x2="497.6" y2="360.9" stroke="#333" stroke-width="0.9"/>
<line x1="509.4" y1="329.6" x2="512.8" y2="329.6" stroke="#333" stroke-width="0.9"/>
<line x1="509.4" y1="337.2" x2="512.8" y2="337.2" stroke="#333" stroke-width="0.9"/>
<line x1="511.1" y1="335.5" x2="511.1" y2="338.9" stroke="#333" stroke-width="0.9"/>
<line x1="509.4" y1="353.2" x2="512.8" y2="353.2" stroke="#333" stroke-width="0.9"/>
<line x1="509.4" y1="360.9" x2="512.8" y2="360.9" stroke="#333" stroke-width="0.9"/>
<line x1="524.6" y1="329.6" x2="528" y2="329.6" stroke="#333" stroke-width="0.9"/>
<line x1="524.6" y1="337.2" x2="528" y2="337.2" stroke="#333" stroke-width="0.9"/>
<line x1="526.3" y1="335.5" x2="526.3" y2="338.9" stroke="#333" stroke-width="0.9"/>
<line x1="524.6" y1="345.4" x2="528" y2="345.4" stroke="#333" stroke-width="0.9"/>
<line x1="524.6" y1="360.9" x2="528" y2="360.9" stroke="#333" stroke-width="0.9"/>
<line x1="539.8" y1="329.6" x2="543.2" y2="329.6" stroke="#333" stroke-width="0.9"/>
<line x1="539.8" y1="337.2" x2="543.2" y2="337.2" stroke="#333" stroke-width="0.9"/>
<line x1="541.5" y1="335.5" x2="541.5" y2="338.9" stroke="#333" stroke-width="0.9"/>
<line x1="539.8" y1="345.4" x2="543.2" y2="345.4" stroke="#333" stroke-width="0.9"/>
<line x1="539.8" y1="360.9" x2="543.2" y2="360.9" stroke="#333" stroke-width="0.9"/>
<line x1="555" y1="329.6" x2="558.4" y2="329.6" stroke="#333" stroke-width="0.9"/>
<line x1="555" y1="337.2" x2="558.4" y2="337.2" stroke="#333" stroke-width="0.9"/>
<line x1="556.7" y1="335.5" x2="556.7" y2="338.9" stroke="#333" stroke-width="0.9"/>
<line x1="555" y1="345.4" x2="558.4" y2="345.4" stroke="#333" stroke-width="0.9"/>
<line x1="555" y1="360.9" x2="558.4" y2="360.9" stroke="#333" stroke-width="0.9"/>
<line x1="570.2" y1="329.6" x2="573.6" y2="329.6" stroke="#333" stroke-width="0.9"/>
<line x1="570.2" y1="337.2" x2="573.6" y2="337.2" stroke="#333" stroke-width="0.9"/>
<line x1="571.9" y1="335.5" x2="571.9" y2="338.9" stroke="#333" stroke-width="0.9"/>
<line x1="570.2" y1="345.4" x2="573.6" y2="345.4" stroke="#333" stroke-width="0.9"/>
<line x1="570.2" y1="353.2" x2="573.6" y2="353.2" stroke="#bbb" stroke-width="0.9"/>
<line x1="585.4" y1="329.6" x2="588.8" y2="329.6" stroke="#333" stroke-width="0.9"/>
<line x1="585.4" y1="337.2" x2="588.8" y2="337.2" stroke="#333" stroke-width="0.9"/>
<line x1="587.1" y1="335.5" x2="587.1" y2="338.9" stroke="#333" stroke-width="0.9"/>
<line x1="585.4" y1="345.4" x2="588.8" y2="345.4" stroke="#333" stroke-width="0.9"/>
<line x1="585.4" y1="353.2" x2="588.8" y2="353.2" stroke="#bbb" stroke-width="0.9"/>
<line x1="600.6" y1="329.6" x2="604" y2="329.6" stroke="#333" stroke-width="0.9"/>
<line x1="600.6" y1="337.2" x2="604" y2="337.2" stroke="#333" stroke-width="0.9"/>
<line x1="602.3" y1="335.5" x2="602.3" y2="338.9" stroke="#333" stroke-width="0.9"/>
<line x1="600.6" y1="345.4" x2="604" y2="345.4" stroke="#333" stroke-width="0.9"/>
<line x1="600.6" y1="353.2" x2="604" y2="353.2" stroke="#bbb" stroke-width="0.9"/>
<path d="M479.1 347.7 L511.9 342.9 L511.9 347.7 Z" fill="#fff" stroke="#333" stroke-width="0.8"/>
<path d="M524.7 355.5 L557.5 350.7 L557.5 355.5 Z" fill="#fff" stroke="#333" stroke-width="0.8"/>
<path d="M570.3 363.2 L603.1 358.4 L603.1 363.2 Z" fill="#fff" stroke="#333" stroke-width="0.8"/>
<text x="613" y="331.8" font-size="7.6">Gln<tspan font-size="4.6" dy="-3">hi</tspan></text>
<text x="613" y="339.3" font-size="7.6">Gln<tspan font-size="4.6" dy="-3">lo</tspan></text>
<text x="613" y="348.1" font-size="7.6" textLength="16.3" lengthAdjust="spacingAndGlyphs">DMS</text>
<text x="613" y="355.7" font-size="7.6" textLength="20.7" lengthAdjust="spacingAndGlyphs">DMKG</text>
<text x="613" y="363.3" font-size="7.6" textLength="16.6" lengthAdjust="spacingAndGlyphs">DMG</text>
<text x="5.6" y="399.8" font-size="13.2" font-weight="bold" fill="#000">h</text>
<line x1="39.5" y1="412.85" x2="39.5" y2="522.3" stroke="#8a8a8a" stroke-width="1"/>
<line x1="35.2" y1="413.35" x2="39.5" y2="413.35" stroke="#8a8a8a" stroke-width="1"/>
<text x="31.4" y="416.01" font-size="7.4" text-anchor="end" fill="#333">1.5</text>
<line x1="35.2" y1="449.5" x2="39.5" y2="449.5" stroke="#8a8a8a" stroke-width="1"/>
<text x="31.4" y="452.16" font-size="7.4" text-anchor="end" fill="#333">1.0</text>
<line x1="35.2" y1="485.65" x2="39.5" y2="485.65" stroke="#8a8a8a" stroke-width="1"/>
<text x="31.4" y="488.31" font-size="7.4" text-anchor="end" fill="#333">0.5</text>
<line x1="35.2" y1="521.8" x2="39.5" y2="521.8" stroke="#8a8a8a" stroke-width="1"/>
<text x="31.4" y="524.46" font-size="7.4" text-anchor="end" fill="#333">0</text>
<line x1="36.92" y1="431.42" x2="39.5" y2="431.42" stroke="#8a8a8a" stroke-width="1"/>
<line x1="36.92" y1="467.57" x2="39.5" y2="467.57" stroke="#8a8a8a" stroke-width="1"/>
<line x1="36.92" y1="503.72" x2="39.5" y2="503.72" stroke="#8a8a8a" stroke-width="1"/>
<line x1="35.3" y1="521.8" x2="146" y2="521.8" stroke="#8a8a8a" stroke-width="1"/>
<text x="0" y="0" font-size="8.8" text-anchor="middle" transform="translate(13.2 467.7) rotate(-90)" textLength="66" lengthAdjust="spacingAndGlyphs">Relative viability</text>
<path d="M43.3 521.8 V449.5 H49.6 V521.8" fill="#fff" stroke="#222" stroke-width="1.3"/>
<path d="M54.2 521.8 V479.14 H60.4 V521.8" fill="#fff" stroke="#2f5fa7" stroke-width="1.3"/>
<path d="M70.6 521.8 V479.87 H77.1 V521.8" fill="#fff" stroke="#222" stroke-width="1.3"/>
<path d="M81.3 521.8 V494.33 H87.6 V521.8" fill="#fff" stroke="#2f5fa7" stroke-width="1.3"/>
<path d="M98.1 521.8 V469.02 H104.7 V521.8" fill="#fff" stroke="#222" stroke-width="1.3"/>
<path d="M109.1 521.8 V483.48 H115.2 V521.8" fill="#fff" stroke="#7d9dd2" stroke-width="1.3"/>
<path d="M125.7 521.8 V497.22 H132 V521.8" fill="#fff" stroke="#222" stroke-width="1.3"/>
<path d="M136.7 521.8 V512.4 H142.6 V521.8" fill="#fff" stroke="#2f5fa7" stroke-width="1.3"/>
<circle cx="44.6" cy="449.6" r="1.8" fill="#111"/>
<circle cx="46.4" cy="447.6" r="1.8" fill="#111"/>
<circle cx="48.3" cy="449.4" r="1.8" fill="#111"/>
<rect x="53.75" y="477.35" width="3.3" height="3.3" fill="#2f5fa7" stroke="none" stroke-width="1"/>
<rect x="55.65" y="476.35" width="3.3" height="3.3" fill="#2f5fa7" stroke="none" stroke-width="1"/>
<rect x="57.55" y="476.95" width="3.3" height="3.3" fill="#2f5fa7" stroke="none" stroke-width="1"/>
<circle cx="72" cy="476.2" r="1.8" fill="#111"/>
<circle cx="75.6" cy="478.4" r="1.8" fill="#111"/>
<circle cx="72.8" cy="481.5" r="1.8" fill="#111"/>
<rect x="80.85" y="492.15" width="3.3" height="3.3" fill="#2f5fa7" stroke="none" stroke-width="1"/>
<rect x="82.75" y="490.95" width="3.3" height="3.3" fill="#2f5fa7" stroke="none" stroke-width="1"/>
<rect x="84.75" y="491.35" width="3.3" height="3.3" fill="#2f5fa7" stroke="none" stroke-width="1"/>
<circle cx="99.6" cy="466.3" r="1.8" fill="#111"/>
<circle cx="103.1" cy="468.8" r="1.8" fill="#111"/>
<circle cx="100.6" cy="469.8" r="1.8" fill="#111"/>
<rect x="110.45" y="475.25" width="3.3" height="3.3" fill="#2f5fa7" stroke="none" stroke-width="1"/>
<rect x="110.45" y="482.35" width="3.3" height="3.3" fill="#2f5fa7" stroke="none" stroke-width="1"/>
<rect x="110.45" y="486.25" width="3.3" height="3.3" fill="#2f5fa7" stroke="none" stroke-width="1"/>
<line x1="112.1" y1="479" x2="112.1" y2="486" stroke="#7d9dd2" stroke-width="0.9"/>
<line x1="110.6" y1="479" x2="113.6" y2="479" stroke="#7d9dd2" stroke-width="0.9"/>
<line x1="110.6" y1="486" x2="113.6" y2="486" stroke="#7d9dd2" stroke-width="0.9"/>
<circle cx="127.2" cy="497" r="1.8" fill="#111"/>
<circle cx="128.8" cy="496.4" r="1.8" fill="#111"/>
<circle cx="130.5" cy="497" r="1.8" fill="#111"/>
<rect x="136.55" y="510.05" width="3.3" height="3.3" fill="#2f5fa7" stroke="none" stroke-width="1"/>
<rect x="138.05" y="508.15" width="3.3" height="3.3" fill="#2f5fa7" stroke="none" stroke-width="1"/>
<rect x="139.65" y="509.75" width="3.3" height="3.3" fill="#2f5fa7" stroke="none" stroke-width="1"/>
<polyline points="56.4,471.4 56.4,443.4 84.5,443.4 84.5,490" fill="none" stroke="#555" stroke-width="0.9"/>
<polyline points="84.3,424.7 84.3,413.9 139.7,413.9 139.7,433.6" fill="none" stroke="#555" stroke-width="0.9"/>
<polyline points="111.7,474 111.7,452.2 139.7,452.2 139.7,508" fill="none" stroke="#777" stroke-width="0.9"/>
<text x="93.5" y="409.8" font-size="8.3" textLength="36.2" lengthAdjust="spacingAndGlyphs"><tspan font-style="italic">P</tspan> &lt; 0.0001</text>
<text x="52.9" y="437.7" font-size="8.3" textLength="35.6" lengthAdjust="spacingAndGlyphs"><tspan font-style="italic">P</tspan> &lt; 0.0001</text>
<text x="107.9" y="446.8" font-size="8.3" textLength="35.8" lengthAdjust="spacingAndGlyphs"><tspan font-style="italic">P</tspan> &lt; 0.0001</text>
<line x1="44.8" y1="529.3" x2="48" y2="529.3" stroke="#333" stroke-width="0.9"/>
<line x1="55.6" y1="529.3" x2="59" y2="529.3" stroke="#333" stroke-width="0.9"/>
<line x1="57.3" y1="527.6" x2="57.3" y2="531" stroke="#333" stroke-width="0.9"/>
<line x1="72.2" y1="529.3" x2="75.4" y2="529.3" stroke="#333" stroke-width="0.9"/>
<line x1="82.8" y1="529.3" x2="86.2" y2="529.3" stroke="#333" stroke-width="0.9"/>
<line x1="84.5" y1="527.6" x2="84.5" y2="531" stroke="#333" stroke-width="0.9"/>
<line x1="99.8" y1="529.3" x2="103" y2="529.3" stroke="#333" stroke-width="0.9"/>
<line x1="110.4" y1="529.3" x2="113.8" y2="529.3" stroke="#333" stroke-width="0.9"/>
<line x1="112.1" y1="527.6" x2="112.1" y2="531" stroke="#333" stroke-width="0.9"/>
<line x1="127.2" y1="529.3" x2="130.4" y2="529.3" stroke="#333" stroke-width="0.9"/>
<line x1="138" y1="529.3" x2="141.4" y2="529.3" stroke="#333" stroke-width="0.9"/>
<line x1="139.7" y1="527.6" x2="139.7" y2="531" stroke="#333" stroke-width="0.9"/>
<line x1="46.7" y1="535.8" x2="57.2" y2="535.8" stroke="#444" stroke-width="0.9"/>
<line x1="74.3" y1="535.8" x2="84.6" y2="535.8" stroke="#444" stroke-width="0.9"/>
<line x1="102.1" y1="535.8" x2="112.1" y2="535.8" stroke="#444" stroke-width="0.9"/>
<line x1="129.7" y1="535.8" x2="140.2" y2="535.8" stroke="#444" stroke-width="0.9"/>
<text x="147.2" y="532" font-size="7.6" textLength="16.6" lengthAdjust="spacingAndGlyphs">DMG</text>
<text x="0" y="0" transform="translate(56.1 543.8) rotate(-45)" font-size="8" text-anchor="end">DMSO</text>
<text x="0" y="0" transform="translate(82.9 543.8) rotate(-45)" font-size="8" text-anchor="end">TTFA</text>
<text x="0" y="0" transform="translate(111.7 543.8) rotate(-45)" font-size="8" text-anchor="end">ERAS</text>
<text x="0" y="0" transform="translate(137.4 543.8) rotate(-45)" font-size="8" text-anchor="end">TTFA+</text>
<text x="0" y="0" transform="translate(146 551.3) rotate(-45)" font-size="8" text-anchor="end">ERAS</text>
<text x="187.7" y="399.8" font-size="13.2" font-weight="bold" fill="#000">i</text>
<line x1="220.1" y1="413.8" x2="220.1" y2="522.5" stroke="#8a8a8a" stroke-width="1"/>
<line x1="215.8" y1="414.3" x2="220.1" y2="414.3" stroke="#8a8a8a" stroke-width="1"/>
<text x="212.7" y="416.96" font-size="7.4" text-anchor="end" fill="#333">15</text>
<line x1="215.8" y1="450.2" x2="220.1" y2="450.2" stroke="#8a8a8a" stroke-width="1"/>
<text x="212.7" y="452.86" font-size="7.4" text-anchor="end" fill="#333">10</text>
<line x1="215.8" y1="486.1" x2="220.1" y2="486.1" stroke="#8a8a8a" stroke-width="1"/>
<text x="212.7" y="488.76" font-size="7.4" text-anchor="end" fill="#333">5</text>
<line x1="215.8" y1="522" x2="220.1" y2="522" stroke="#8a8a8a" stroke-width="1"/>
<text x="212.7" y="524.66" font-size="7.4" text-anchor="end" fill="#333">0</text>
<line x1="217.52" y1="432.25" x2="220.1" y2="432.25" stroke="#8a8a8a" stroke-width="1"/>
<line x1="217.52" y1="468.15" x2="220.1" y2="468.15" stroke="#8a8a8a" stroke-width="1"/>
<line x1="217.52" y1="504.05" x2="220.1" y2="504.05" stroke="#8a8a8a" stroke-width="1"/>
<line x1="220.1" y1="522" x2="325.9" y2="522" stroke="#8a8a8a" stroke-width="1"/>
<text x="0" y="0" font-size="8.8" text-anchor="middle" transform="translate(196.1 468.0) rotate(-90)" textLength="48.4" lengthAdjust="spacingAndGlyphs">Relative Glu</text>
<path d="M224.3 522 V514.82 H230.6 V522" fill="#fff" stroke="#222" stroke-width="1.3"/>
<path d="M234.6 522 V510.15 H240.8 V522" fill="#fff" stroke="#2f5fa7" stroke-width="1.3"/>
<path d="M251.2 522 V514.82 H257.5 V522" fill="#fff" stroke="#222" stroke-width="1.3"/>
<path d="M261.7 522 V506.2 H268 V522" fill="#fff" stroke="#2f5fa7" stroke-width="1.3"/>
<path d="M278.5 522 V509.79 H285 V522" fill="#fff" stroke="#222" stroke-width="1.3"/>
<path d="M289.5 522 V505.49 H295.6 V522" fill="#fff" stroke="#2f5fa7" stroke-width="1.3"/>
<path d="M306.1 522 V509.08 H312.6 V522" fill="#fff" stroke="#222" stroke-width="1.3"/>
<path d="M316.6 522 V463.48 H322.9 V522" fill="#fff" stroke="#7d9dd2" stroke-width="1.3"/>
<circle cx="225.65" cy="515.06" r="1.8" fill="#111"/>
<circle cx="227.45" cy="514.52" r="1.8" fill="#111"/>
<circle cx="229.25" cy="515.06" r="1.8" fill="#111"/>
<rect x="234.25" y="508.74" width="3.3" height="3.3" fill="#2f5fa7" stroke="none" stroke-width="1"/>
<rect x="236.05" y="508.2" width="3.3" height="3.3" fill="#2f5fa7" stroke="none" stroke-width="1"/>
<rect x="237.85" y="508.74" width="3.3" height="3.3" fill="#2f5fa7" stroke="none" stroke-width="1"/>
<circle cx="252.55" cy="515.06" r="1.8" fill="#111"/>
<circle cx="254.35" cy="514.52" r="1.8" fill="#111"/>
<circle cx="256.15" cy="515.06" r="1.8" fill="#111"/>
<rect x="261.4" y="504.79" width="3.3" height="3.3" fill="#2f5fa7" stroke="none" stroke-width="1"/>
<rect x="263.2" y="504.25" width="3.3" height="3.3" fill="#2f5fa7" stroke="none" stroke-width="1"/>
<rect x="265" y="504.79" width="3.3" height="3.3" fill="#2f5fa7" stroke="none" stroke-width="1"/>
<circle cx="279.95" cy="510.03" r="1.8" fill="#111"/>
<circle cx="281.75" cy="509.49" r="1.8" fill="#111"/>
<circle cx="283.55" cy="510.03" r="1.8" fill="#111"/>
<rect x="289.1" y="504.08" width="3.3" height="3.3" fill="#2f5fa7" stroke="none" stroke-width="1"/>
<rect x="290.9" y="503.54" width="3.3" height="3.3" fill="#2f5fa7" stroke="none" stroke-width="1"/>
<rect x="292.7" y="504.08" width="3.3" height="3.3" fill="#2f5fa7" stroke="none" stroke-width="1"/>
<circle cx="307.55" cy="509.32" r="1.8" fill="#111"/>
<circle cx="309.35" cy="508.78" r="1.8" fill="#111"/>
<circle cx="311.15" cy="509.32" r="1.8" fill="#111"/>
<line x1="319.7" y1="451.7" x2="319.7" y2="474" stroke="#7d9dd2" stroke-width="0.9"/>
<line x1="318" y1="451.7" x2="321.4" y2="451.7" stroke="#7d9dd2" stroke-width="0.9"/>
<line x1="318" y1="474" x2="321.4" y2="474" stroke="#7d9dd2" stroke-width="0.9"/>
<rect x="317.75" y="439.55" width="3.3" height="3.3" fill="#2f5fa7" stroke="none" stroke-width="1"/>
<rect x="315.25" y="472.25" width="3.3" height="3.3" fill="#2f5fa7" stroke="none" stroke-width="1"/>
<rect x="320.35" y="471.55" width="3.3" height="3.3" fill="#2f5fa7" stroke="none" stroke-width="1"/>
<polyline points="237.6,503.1 237.6,381.2 319.4,381.2 319.4,387.5" fill="none" stroke="#555" stroke-width="0.9"/>
<polyline points="264.5,499.6 264.5,405 319.4,405 319.4,410.9" fill="none" stroke="#555" stroke-width="0.9"/>
<polyline points="292.5,498 292.5,428.4 319.4,428.4 319.4,433.6" fill="none" stroke="#555" stroke-width="0.9"/>
<text x="261" y="377.5" font-size="8.3" textLength="35.7" lengthAdjust="spacingAndGlyphs"><tspan font-style="italic">P</tspan> &lt; 0.0001</text>
<text x="273.8" y="400.9" font-size="8.3" textLength="36.5" lengthAdjust="spacingAndGlyphs"><tspan font-style="italic">P</tspan> &lt; 0.0001</text>
<text x="287.9" y="424.3" font-size="8.3" textLength="35.7" lengthAdjust="spacingAndGlyphs"><tspan font-style="italic">P</tspan> &lt; 0.0001</text>
<line x1="225.9" y1="529.3" x2="229.1" y2="529.3" stroke="#333" stroke-width="0.9"/>
<line x1="236" y1="529.3" x2="239.4" y2="529.3" stroke="#333" stroke-width="0.9"/>
<line x1="237.7" y1="527.6" x2="237.7" y2="531" stroke="#333" stroke-width="0.9"/>
<line x1="252.8" y1="529.3" x2="256" y2="529.3" stroke="#333" stroke-width="0.9"/>
<line x1="263.2" y1="529.3" x2="266.6" y2="529.3" stroke="#333" stroke-width="0.9"/>
<line x1="264.9" y1="527.6" x2="264.9" y2="531" stroke="#333" stroke-width="0.9"/>
<line x1="280.2" y1="529.3" x2="283.4" y2="529.3" stroke="#333" stroke-width="0.9"/>
<line x1="290.9" y1="529.3" x2="294.3" y2="529.3" stroke="#333" stroke-width="0.9"/>
<line x1="292.6" y1="527.6" x2="292.6" y2="531" stroke="#333" stroke-width="0.9"/>
<line x1="307.8" y1="529.3" x2="311" y2="529.3" stroke="#333" stroke-width="0.9"/>
<line x1="318.1" y1="529.3" x2="321.5" y2="529.3" stroke="#333" stroke-width="0.9"/>
<line x1="319.8" y1="527.6" x2="319.8" y2="531" stroke="#333" stroke-width="0.9"/>
<line x1="227.6" y1="535.8" x2="237.6" y2="535.8" stroke="#444" stroke-width="0.9"/>
<line x1="254.7" y1="535.8" x2="265" y2="535.8" stroke="#444" stroke-width="0.9"/>
<line x1="282.7" y1="535.8" x2="292.5" y2="535.8" stroke="#444" stroke-width="0.9"/>
<line x1="310.3" y1="535.8" x2="320.1" y2="535.8" stroke="#444" stroke-width="0.9"/>
<text x="328.3" y="532" font-size="7.6" textLength="16.6" lengthAdjust="spacingAndGlyphs">DMG</text>
<text x="0" y="0" transform="translate(237.6 543.8) rotate(-45)" font-size="8" text-anchor="end">DMSO</text>
<text x="0" y="0" transform="translate(264.5 543.8) rotate(-45)" font-size="8" text-anchor="end">TTFA</text>
<text x="0" y="0" transform="translate(292.5 543.8) rotate(-45)" font-size="8" text-anchor="end">ERAS</text>
<text x="0" y="0" transform="translate(318.4 543.8) rotate(-45)" font-size="8" text-anchor="end">TTFA+</text>
<text x="0" y="0" transform="translate(327 551.3) rotate(-45)" font-size="8" text-anchor="end">ERAS</text>
<text x="376.4" y="399.8" font-size="13.2" font-weight="bold" fill="#000">j</text>
<line x1="408.5" y1="398.7" x2="408.5" y2="522.1" stroke="#8a8a8a" stroke-width="1"/>
<line x1="404.2" y1="399.2" x2="408.5" y2="399.2" stroke="#8a8a8a" stroke-width="1"/>
<text x="400.2" y="401.86" font-size="7.4" text-anchor="end" fill="#333">4</text>
<line x1="404.2" y1="429.8" x2="408.5" y2="429.8" stroke="#8a8a8a" stroke-width="1"/>
<text x="400.2" y="432.46" font-size="7.4" text-anchor="end" fill="#333">2</text>
<line x1="404.2" y1="460.4" x2="408.5" y2="460.4" stroke="#8a8a8a" stroke-width="1"/>
<text x="400.2" y="463.06" font-size="7.4" text-anchor="end" fill="#333">0</text>
<line x1="404.2" y1="491" x2="408.5" y2="491" stroke="#8a8a8a" stroke-width="1"/>
<text x="400.2" y="493.66" font-size="7.4" text-anchor="end" fill="#333">−2</text>
<line x1="404.2" y1="521.6" x2="408.5" y2="521.6" stroke="#8a8a8a" stroke-width="1"/>
<text x="400.2" y="524.26" font-size="7.4" text-anchor="end" fill="#333">−4</text>
<text x="0" y="0" font-size="8.8" text-anchor="middle" transform="translate(385.0 460.1) rotate(-90)" textLength="74.4" lengthAdjust="spacingAndGlyphs">log<tspan font-size="6.2" dy="2">2</tspan><tspan dy="-2" font-style="italic">FC</tspan> (DMG/Ctrl)</text>
<line x1="408.5" y1="521.6" x2="685" y2="521.6" stroke="#8a8a8a" stroke-width="1"/>
<rect x="412.45" y="460.75" width="7.2" height="40.1" fill="#3262a8" stroke="#1f3f72" stroke-width="0.7"/>
<line x1="416.05" y1="521.6" x2="416.05" y2="524.2" stroke="#8a8a8a" stroke-width="1"/>
<text x="0" y="0" transform="translate(419.45 533.2) rotate(-45)" font-size="8.6" text-anchor="end">AICAR</text>
<rect x="424.31" y="460.75" width="7.2" height="30.1" fill="#3262a8" stroke="#1f3f72" stroke-width="0.7"/>
<line x1="427.91" y1="521.6" x2="427.91" y2="524.2" stroke="#8a8a8a" stroke-width="1"/>
<text x="0" y="0" transform="translate(431.31 533.2) rotate(-45)" font-size="8.6" text-anchor="end">PRPP</text>
<rect x="436.17" y="460.75" width="7.2" height="27.1" fill="#3262a8" stroke="#1f3f72" stroke-width="0.7"/>
<line x1="439.77" y1="521.6" x2="439.77" y2="524.2" stroke="#8a8a8a" stroke-width="1"/>
<text x="0" y="0" transform="translate(443.17 533.2) rotate(-45)" font-size="8.6" text-anchor="end">XMP</text>
<rect x="448.03" y="460.75" width="7.2" height="15.5" fill="#3262a8" stroke="#1f3f72" stroke-width="0.7"/>
<line x1="451.63" y1="521.6" x2="451.63" y2="524.2" stroke="#8a8a8a" stroke-width="1"/>
<text x="0" y="0" transform="translate(455.03 533.2) rotate(-45)" font-size="8.6" text-anchor="end">GMP</text>
<rect x="459.89" y="460.75" width="7.2" height="12.3" fill="#3262a8" stroke="#1f3f72" stroke-width="0.7"/>
<line x1="463.49" y1="521.6" x2="463.49" y2="524.2" stroke="#8a8a8a" stroke-width="1"/>
<text x="0" y="0" transform="translate(466.89 533.2) rotate(-45)" font-size="8.6" text-anchor="end">S-AMP</text>
<rect x="471.75" y="460.75" width="7.2" height="12.3" fill="#3262a8" stroke="#1f3f72" stroke-width="0.7"/>
<line x1="475.35" y1="521.6" x2="475.35" y2="524.2" stroke="#8a8a8a" stroke-width="1"/>
<text x="0" y="0" transform="translate(478.75 533.2) rotate(-45)" font-size="8.6" text-anchor="end">ADP-ribose</text>
<rect x="483.61" y="460.75" width="7.2" height="10.6" fill="#3262a8" stroke="#1f3f72" stroke-width="0.7"/>
<line x1="487.21" y1="521.6" x2="487.21" y2="524.2" stroke="#8a8a8a" stroke-width="1"/>
<text x="0" y="0" transform="translate(490.61 533.2) rotate(-45)" font-size="8.6" text-anchor="end">AMP</text>
<rect x="495.47" y="460.75" width="7.2" height="10.1" fill="#3262a8" stroke="#1f3f72" stroke-width="0.7"/>
<line x1="499.07" y1="521.6" x2="499.07" y2="524.2" stroke="#8a8a8a" stroke-width="1"/>
<text x="0" y="0" transform="translate(502.47 533.2) rotate(-45)" font-size="8.6" text-anchor="end">dATP</text>
<rect x="507.33" y="460.75" width="7.2" height="7.7" fill="#3262a8" stroke="#1f3f72" stroke-width="0.7"/>
<line x1="510.93" y1="521.6" x2="510.93" y2="524.2" stroke="#8a8a8a" stroke-width="1"/>
<text x="0" y="0" transform="translate(514.33 533.2) rotate(-45)" font-size="8.6" text-anchor="end">ADP</text>
<rect x="519.19" y="460.75" width="7.2" height="7" fill="#3262a8" stroke="#1f3f72" stroke-width="0.7"/>
<line x1="522.79" y1="521.6" x2="522.79" y2="524.2" stroke="#8a8a8a" stroke-width="1"/>
<text x="0" y="0" transform="translate(526.19 533.2) rotate(-45)" font-size="8.6" text-anchor="end">NMN</text>
<rect x="531.05" y="460.75" width="7.2" height="5.8" fill="#3262a8" stroke="#1f3f72" stroke-width="0.7"/>
<line x1="534.65" y1="521.6" x2="534.65" y2="524.2" stroke="#8a8a8a" stroke-width="1"/>
<text x="0" y="0" transform="translate(538.05 533.2) rotate(-45)" font-size="8.6" text-anchor="end">IMP</text>
<rect x="542.91" y="460.75" width="7.2" height="4.9" fill="#3262a8" stroke="#1f3f72" stroke-width="0.7"/>
<line x1="546.51" y1="521.6" x2="546.51" y2="524.2" stroke="#8a8a8a" stroke-width="1"/>
<text x="0" y="0" transform="translate(549.91 533.2) rotate(-45)" font-size="8.6" text-anchor="end">ATP</text>
<rect x="554.77" y="460.75" width="7.2" height="3.4" fill="#3262a8" stroke="#1f3f72" stroke-width="0.7"/>
<line x1="558.37" y1="521.6" x2="558.37" y2="524.2" stroke="#8a8a8a" stroke-width="1"/>
<text x="0" y="0" transform="translate(561.77 533.2) rotate(-45)" font-size="8.6" text-anchor="end">NADP</text>
<rect x="566.63" y="460.75" width="7.2" height="2.9" fill="#3262a8" stroke="#1f3f72" stroke-width="0.7"/>
<line x1="570.23" y1="521.6" x2="570.23" y2="524.2" stroke="#8a8a8a" stroke-width="1"/>
<text x="0" y="0" transform="translate(573.63 533.2) rotate(-45)" font-size="8.6" text-anchor="end">GTP</text>
<rect x="578.49" y="460.75" width="7.2" height="2.2" fill="#3262a8" stroke="#1f3f72" stroke-width="0.7"/>
<line x1="582.09" y1="521.6" x2="582.09" y2="524.2" stroke="#8a8a8a" stroke-width="1"/>
<text x="0" y="0" transform="translate(585.49 533.2) rotate(-45)" font-size="8.6" text-anchor="end">NAD</text>
<rect x="590.35" y="460.75" width="7.2" height="0.1" fill="#3262a8" stroke="#1f3f72" stroke-width="0.7"/>
<line x1="593.95" y1="521.6" x2="593.95" y2="524.2" stroke="#8a8a8a" stroke-width="1"/>
<text x="0" y="0" transform="translate(597.35 533.2) rotate(-45)" font-size="8.6" text-anchor="end">SAH</text>
<rect x="602.21" y="458.55" width="7.2" height="1.5" fill="#3262a8" stroke="#1f3f72" stroke-width="0.7"/>
<line x1="605.81" y1="521.6" x2="605.81" y2="524.2" stroke="#8a8a8a" stroke-width="1"/>
<text x="0" y="0" transform="translate(609.21 533.2) rotate(-45)" font-size="8.6" text-anchor="end">Guanosine</text>
<rect x="614.07" y="458.55" width="7.2" height="1.5" fill="#3262a8" stroke="#1f3f72" stroke-width="0.7"/>
<line x1="617.67" y1="521.6" x2="617.67" y2="524.2" stroke="#8a8a8a" stroke-width="1"/>
<text x="0" y="0" transform="translate(621.07 533.2) rotate(-45)" font-size="8.6" text-anchor="end">NADH</text>
<rect x="625.93" y="458.55" width="7.2" height="1.5" fill="#3262a8" stroke="#1f3f72" stroke-width="0.7"/>
<line x1="629.53" y1="521.6" x2="629.53" y2="524.2" stroke="#8a8a8a" stroke-width="1"/>
<text x="0" y="0" transform="translate(632.93 533.2) rotate(-45)" font-size="8.6" text-anchor="end">GDP</text>
<rect x="637.79" y="456.65" width="7.2" height="3.4" fill="#3262a8" stroke="#1f3f72" stroke-width="0.7"/>
<line x1="641.39" y1="521.6" x2="641.39" y2="524.2" stroke="#8a8a8a" stroke-width="1"/>
<text x="0" y="0" transform="translate(644.79 533.2) rotate(-45)" font-size="8.6" text-anchor="end">GDP-Man</text>
<rect x="649.65" y="446.95" width="7.2" height="13.1" fill="#3262a8" stroke="#1f3f72" stroke-width="0.7"/>
<line x1="653.25" y1="521.6" x2="653.25" y2="524.2" stroke="#8a8a8a" stroke-width="1"/>
<text x="0" y="0" transform="translate(656.65 533.2) rotate(-45)" font-size="8.6" text-anchor="end">NADPH</text>
<rect x="661.51" y="445.55" width="7.2" height="14.5" fill="#3262a8" stroke="#1f3f72" stroke-width="0.7"/>
<line x1="665.11" y1="521.6" x2="665.11" y2="524.2" stroke="#8a8a8a" stroke-width="1"/>
<text x="0" y="0" transform="translate(668.51 533.2) rotate(-45)" font-size="8.6" text-anchor="end">H</text>
<rect x="673.37" y="404.95" width="7.2" height="55.1" fill="#3262a8" stroke="#1f3f72" stroke-width="0.7"/>
<line x1="676.97" y1="521.6" x2="676.97" y2="524.2" stroke="#8a8a8a" stroke-width="1"/>
<text x="0" y="0" transform="translate(680.37 533.2) rotate(-45)" font-size="8.6" text-anchor="end">MTA</text>
<line x1="408.5" y1="460.4" x2="685" y2="460.4" stroke="#444" stroke-width="0.9"/>
<text x="0" y="0" font-size="7" transform="translate(421.6 457.6) rotate(-90)" textLength="31" lengthAdjust="spacingAndGlyphs"><tspan font-style="italic">P</tspan> = 0.032</text>
<text x="0" y="0" font-size="7" transform="translate(466.9 457.6) rotate(-90)" textLength="31" lengthAdjust="spacingAndGlyphs"><tspan font-style="italic">P</tspan> = 0.028</text>
<text x="0" y="0" font-size="7" transform="translate(502.2 457.6) rotate(-90)" textLength="31" lengthAdjust="spacingAndGlyphs"><tspan font-style="italic">P</tspan> = 0.001</text>
<text x="0" y="0" font-size="7" transform="translate(514.9 457.6) rotate(-90)" textLength="31" lengthAdjust="spacingAndGlyphs"><tspan font-style="italic">P</tspan> = 0.006</text>
<text x="0" y="0" font-size="7" transform="translate(548.8 457.6) rotate(-90)" textLength="31" lengthAdjust="spacingAndGlyphs"><tspan font-style="italic">P</tspan> = 0.008</text>
</svg></body></html>
